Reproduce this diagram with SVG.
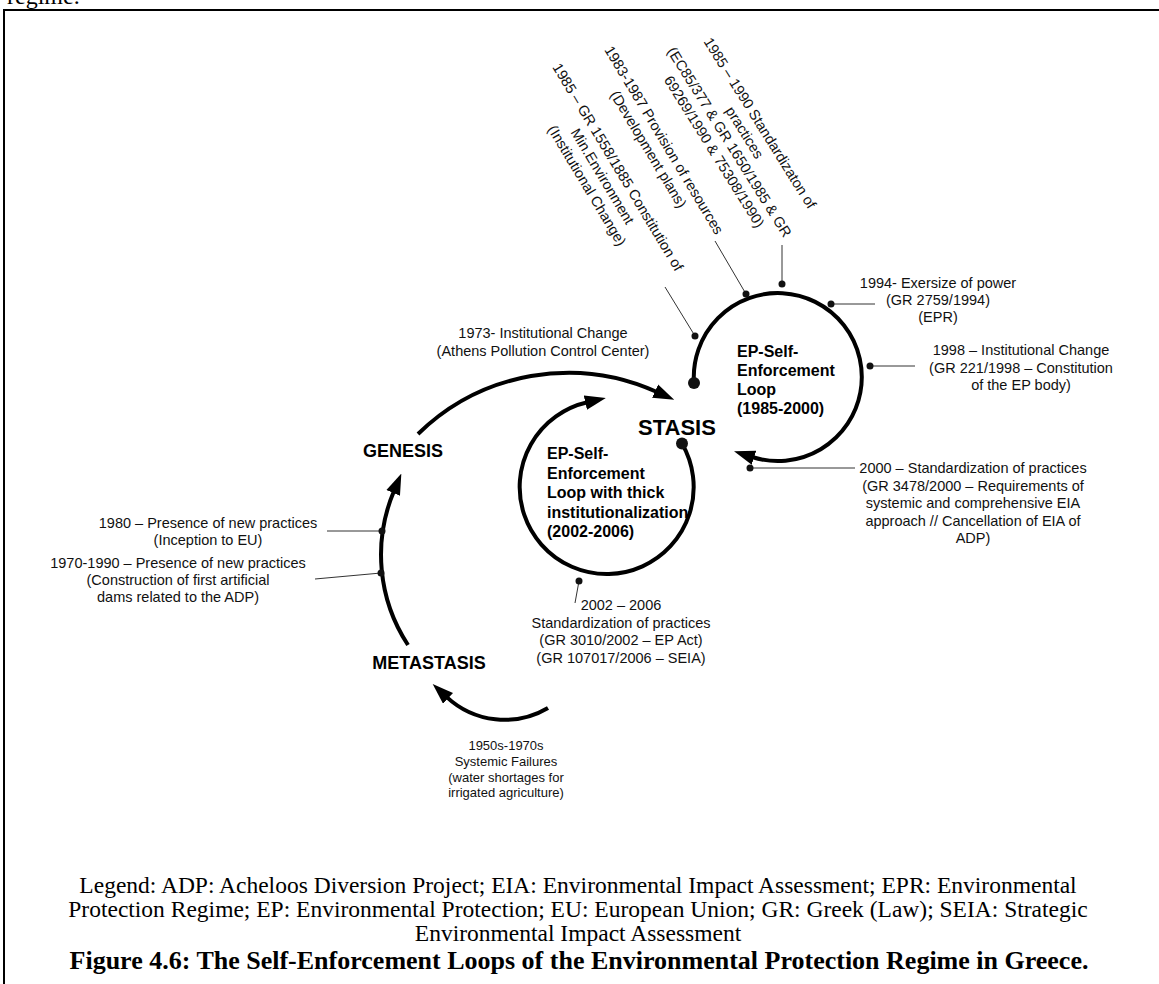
<svg xmlns="http://www.w3.org/2000/svg" width="1159" height="984" viewBox="0 0 1159 984">
  <style>
    .lbl { font-family: "Liberation Sans", Arial, sans-serif; font-size: 14.5px; fill: #111; text-anchor: middle; }
    .sm { font-size: 13px; }
    .state { font-family: "Liberation Sans", Arial, sans-serif; font-weight: bold; fill: #000; text-anchor: middle; }
    .loop { font-family: "Liberation Sans", Arial, sans-serif; font-weight: bold; font-size: 16px; fill: #000; }
    .serif { font-family: "Liberation Serif", "Times New Roman", serif; font-size: 23.5px; fill: #000; text-anchor: middle; }
    .cap { font-size: 26px; font-weight: bold; }
    .flow { fill: none; stroke: #000; stroke-width: 4; }
    .lead { fill: none; stroke: #333; stroke-width: 1; }
    .dot { fill: #111; }
  </style>
  <defs>
    <marker id="arr" markerUnits="userSpaceOnUse" viewBox="0 0 20 14" markerWidth="21" markerHeight="15" refX="2" refY="7" orient="auto">
      <path d="M0,0 L20,7 L0,14 z" fill="#000"/>
    </marker>
  </defs>

  <rect width="1159" height="984" fill="#fff"/>
  <!-- tail of the preceding paragraph and the figure frame -->
  <text x="7" y="4" font-family="Liberation Serif, Times New Roman, serif" font-size="24">regime.</text>
  <rect x="4" y="10" width="1200" height="1000" fill="none" stroke="#000" stroke-width="2"/>

  <!-- connectors: main cycle arcs, loops and leader lines -->
  <g id="connectors">
    <path class="flow" d="M548,708 A85.3,85.3 0 0,1 446.5,696.9" marker-end="url(#arr)"/>
    <path class="flow" d="M408,645 A164,164 0 0,1 394,491" marker-end="url(#arr)"/>
    <path class="flow" d="M418,434 A215,215 0 0,1 657,392" marker-end="url(#arr)"/>
    <path class="flow" d="M682,443.5 A87,87 0 1,1 587.4,402.2" marker-end="url(#arr)"/>
    <path class="flow" d="M694,383 A84,84 0 1,1 752,457" marker-end="url(#arr)"/>
    <circle cx="682" cy="443.5" r="6" class="dot"/>
    <circle cx="694" cy="383" r="6" class="dot"/>

    <line class="lead" x1="665" y1="287" x2="695" y2="336"/>
    <line class="lead" x1="715" y1="241" x2="746" y2="294"/>
    <line class="lead" x1="782" y1="245" x2="782" y2="284"/>
    <line class="lead" x1="831" y1="304" x2="875" y2="304"/>
    <line class="lead" x1="870" y1="366" x2="915" y2="366"/>
    <line class="lead" x1="750" y1="468" x2="855" y2="468"/>
    <line class="lead" x1="579" y1="581" x2="575" y2="603"/>
    <line class="lead" x1="327" y1="531" x2="382" y2="531"/>
    <line class="lead" x1="315" y1="579" x2="381" y2="573"/>
    <circle cx="695" cy="336" r="3.5" class="dot"/>
    <circle cx="746" cy="294" r="3.5" class="dot"/>
    <circle cx="782" cy="284" r="3.5" class="dot"/>
    <circle cx="831" cy="304" r="3.5" class="dot"/>
    <circle cx="870" cy="366" r="3.5" class="dot"/>
    <circle cx="750" cy="468" r="3.5" class="dot"/>
    <circle cx="579" cy="581" r="3.5" class="dot"/>
    <circle cx="382" cy="531" r="3.5" class="dot"/>
    <circle cx="381" cy="573" r="3.5" class="dot"/>
  </g>

  <!-- regime states -->
  <g id="stasis"><text class="state" x="677" y="435" font-size="22">STASIS</text></g>
  <g id="genesis"><text class="state" x="403" y="457" font-size="18">GENESIS</text></g>
  <g id="metastasis"><text class="state" x="429" y="669" font-size="18">METASTASIS</text></g>

  <!-- self-enforcement loops -->
  <g id="loop-1985">
    <text class="loop" x="737" y="357">EP-Self-</text>
    <text class="loop" x="737" y="376">Enforcement</text>
    <text class="loop" x="737" y="395">Loop</text>
    <text class="loop" x="737" y="414">(1985-2000)</text>
  </g>
  <g id="loop-2002">
    <text class="loop" x="547" y="459">EP-Self-</text>
    <text class="loop" x="547" y="478.5">Enforcement</text>
    <text class="loop" x="547" y="498">Loop with thick</text>
    <text class="loop" x="547" y="517.5">institutionalization</text>
    <text class="loop" x="547" y="537">(2002-2006)</text>
  </g>

  <!-- events -->
  <g id="ev-1973">
    <text class="lbl" x="543" y="338">1973- Institutional Change</text>
    <text class="lbl" x="543" y="356">(Athens Pollution Control Center)</text>
  </g>
  <g id="ev-1985-gr" transform="translate(618,167) rotate(59)">
    <text class="lbl" x="0" y="5">1985 – GR 1558/1885 Constitution of</text>
    <text class="lbl" x="0" y="23">Min.Environment</text>
    <text class="lbl" x="0" y="41">(Institutional Change)</text>
  </g>
  <g id="ev-1983" transform="translate(664,140) rotate(59)">
    <text class="lbl" x="0" y="5">1983-1987 Provision of resources</text>
    <text class="lbl" x="0" y="23">(Development plans)</text>
  </g>
  <g id="ev-1985-1990" transform="translate(760,123) rotate(58)">
    <text class="lbl" x="0" y="5">1985 – 1990 Standardizaton of</text>
    <text class="lbl" x="0" y="23">practices</text>
    <text class="lbl" x="0" y="41">(EC85/377 &amp; GR 1650/1985 &amp; GR</text>
    <text class="lbl" x="0" y="59">69269/1990 &amp; 75308/1990)</text>
  </g>
  <g id="ev-1994">
    <text class="lbl" x="938" y="288">1994- Exersize of power</text>
    <text class="lbl" x="938" y="305">(GR 2759/1994)</text>
    <text class="lbl" x="938" y="322">(EPR)</text>
  </g>
  <g id="ev-1998">
    <text class="lbl" x="1021" y="355">1998 – Institutional Change</text>
    <text class="lbl" x="1021" y="372.5">(GR 221/1998 – Constitution</text>
    <text class="lbl" x="1021" y="390">of the EP body)</text>
  </g>
  <g id="ev-2000">
    <text class="lbl" x="973" y="473">2000 – Standardization of practices</text>
    <text class="lbl" x="973" y="490.5">(GR 3478/2000 – Requirements of</text>
    <text class="lbl" x="973" y="508">systemic and comprehensive EIA</text>
    <text class="lbl" x="973" y="525.5">approach // Cancellation of EIA of</text>
    <text class="lbl" x="973" y="543">ADP)</text>
  </g>
  <g id="ev-2002">
    <text class="lbl" x="621" y="610">2002 – 2006</text>
    <text class="lbl" x="621" y="627.5">Standardization of practices</text>
    <text class="lbl" x="621" y="645">(GR 3010/2002 – EP Act)</text>
    <text class="lbl" x="621" y="662.5">(GR 107017/2006 – SEIA)</text>
  </g>
  <g id="ev-1980">
    <text class="lbl" x="208" y="528">1980 – Presence of new practices</text>
    <text class="lbl" x="208" y="545">(Inception to EU)</text>
  </g>
  <g id="ev-1970">
    <text class="lbl" x="178" y="568">1970-1990 – Presence of new practices</text>
    <text class="lbl" x="178" y="585">(Construction of first artificial</text>
    <text class="lbl" x="178" y="602">dams related to the ADP)</text>
  </g>
  <g id="ev-1950">
    <text class="lbl sm" x="506" y="750">1950s-1970s</text>
    <text class="lbl sm" x="506" y="766">Systemic Failures</text>
    <text class="lbl sm" x="506" y="781.5">(water shortages for</text>
    <text class="lbl sm" x="506" y="797">irrigated agriculture)</text>
  </g>

  <!-- legend and caption -->
  <g id="legend">
    <text class="serif" x="578" y="893">Legend: ADP: Acheloos Diversion Project; EIA: Environmental Impact Assessment; EPR: Environmental</text>
    <text class="serif" x="578" y="917">Protection Regime; EP: Environmental Protection; EU: European Union; GR: Greek (Law); SEIA: Strategic</text>
    <text class="serif" x="578" y="941">Environmental Impact Assessment</text>
  </g>
  <g id="caption">
    <text class="serif cap" x="579" y="969">Figure 4.6: The Self-Enforcement Loops of the Environmental Protection Regime in Greece.</text>
  </g>
</svg>
